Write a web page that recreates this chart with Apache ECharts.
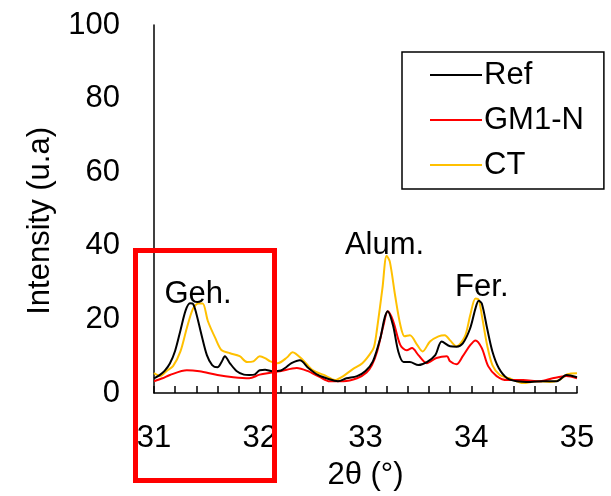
<!DOCTYPE html>
<html>
<head>
<meta charset="utf-8">
<script src="https://cdn.jsdelivr.net/npm/echarts@6/dist/echarts.min.js"></script>
<style>
  html, body { margin: 0; padding: 0; background: #fff; }
  #chart { width: 611px; height: 496px; }
</style>
</head>
<body>
<div id="chart"></div>
<script>
// [2theta, intensity]
const refData = [[31.00,4.0],[31.05,4.8],[31.10,6.0],[31.15,8.0],[31.20,11.5],[31.25,17],[31.30,22.5],[31.34,24.4],[31.37,24.2],[31.40,21.6],[31.45,15.7],[31.50,10.3],[31.55,7.6],[31.60,7.0],[31.64,8.5],[31.67,10],[31.72,8],[31.78,6],[31.85,5.0],[31.90,4.9],[31.95,5.0],[32.00,6.2],[32.05,6.3],[32.12,5.9],[32.20,6.1],[32.25,7.0],[32.30,8.1],[32.38,8.9],[32.46,6.8],[32.55,4.9],[32.65,3.8],[32.74,3.2],[32.82,4.0],[32.92,4.6],[33.00,6.0],[33.07,8.6],[33.14,14.9],[33.18,20.3],[33.21,22.2],[33.26,18.4],[33.31,11.3],[33.36,8.4],[33.42,8.4],[33.50,7.6],[33.58,8.4],[33.66,10.3],[33.72,14],[33.80,12.7],[33.86,12.6],[33.92,13.5],[33.99,17.6],[34.04,23],[34.07,25.1],[34.10,24.3],[34.15,17.6],[34.20,11.3],[34.26,6.8],[34.34,4.0],[34.43,3.2],[34.56,3.0],[34.68,3.2],[34.81,3.2],[34.90,4.9],[35.00,4.3]];
const gm1nData = [[31.00,3.2],[31.08,4.0],[31.15,4.9],[31.31,6.2],[31.43,5.9],[31.60,4.9],[31.75,4.3],[31.90,4.0],[32.00,5.0],[32.10,5.5],[32.19,5.9],[32.35,6.8],[32.45,6.0],[32.57,4.3],[32.66,3.2],[32.79,3.2],[32.92,4.0],[33.01,5.6],[33.06,7.5],[33.11,11.3],[33.17,18.4],[33.21,22.2],[33.26,19.7],[33.33,13],[33.39,11.6],[33.44,12.2],[33.50,10.3],[33.58,8.1],[33.67,9.5],[33.77,10],[33.80,8.6],[33.86,7.8],[33.92,10],[33.99,13],[34.04,14.3],[34.10,12.2],[34.16,7.3],[34.24,4.6],[34.34,3.5],[34.49,3.5],[34.65,3.2],[34.77,4.0],[34.90,4.6],[35.00,4.0]];
const ctData = [[31.00,5.4],[31.06,4.6],[31.12,6.0],[31.18,7.3],[31.25,11.3],[31.31,17.6],[31.37,23],[31.42,24.3],[31.46,24.3],[31.51,19.5],[31.58,14.9],[31.64,11.6],[31.72,10.8],[31.81,10],[31.88,8.4],[31.94,8.6],[32.00,10],[32.05,9.5],[32.10,8.6],[32.17,8.1],[32.26,9.7],[32.31,11.1],[32.41,8.9],[32.50,6.2],[32.63,4.6],[32.71,3.5],[32.79,4.6],[32.88,6.5],[32.97,8.1],[33.04,10.5],[33.08,12.5],[33.11,17.6],[33.16,28.4],[33.20,37.3],[33.23,35.7],[33.28,26.5],[33.33,18.4],[33.37,15.4],[33.42,15.7],[33.49,13],[33.54,11.3],[33.61,14],[33.69,15.4],[33.75,15.7],[33.80,14.3],[33.86,12.7],[33.94,15.4],[33.99,21.1],[34.04,25.7],[34.07,25.4],[34.10,21.1],[34.15,13],[34.20,7.6],[34.27,4.9],[34.36,4.0],[34.49,2.7],[34.62,3.2],[34.74,3.0],[34.83,3.5],[34.91,5.1],[35.00,5.4]];

const seriesNames = ['Ref', 'GM1-N', 'CT'];
const seriesColors = ['#000000', '#ff0000', '#ffc000'];

// peak labels
const peakNames = ['Geh.', 'Alum.', 'Fer.'];
const peakX = [31.416, 33.18, 34.10];
const peakY = [26.8, 40, 28.6];

const FONT = "'Liberation Sans', Arial, sans-serif";
const FS = 31;

const chart = echarts.init(document.getElementById('chart'));

const lineSeries = [refData, gm1nData, ctData].map((d, i) => ({
  name: seriesNames[i],
  type: 'line',
  data: d,
  symbol: 'none',
  smooth: 0.3,
  lineStyle: { color: seriesColors[i], width: 2 },
  itemStyle: { color: seriesColors[i] },
  z: 3 - i
}));

const option = {
  animation: false,
  grid: { left: 154, right: 34, top: 25, bottom: 101 },
  xAxis: {
    type: 'value',
    min: 31,
    max: 35,
    interval: 0.2,
    name: '2θ (°)',
    nameLocation: 'middle',
    nameGap: 66,
    nameTextStyle: { fontFamily: FONT, fontSize: FS, color: '#000', lineHeight: 32 },
    axisLine: { show: true, lineStyle: { color: '#000', width: 1.5 } },
    axisTick: { show: true, inside: true, length: 7, lineStyle: { color: '#000', width: 1.5 } },
    splitLine: { show: false },
    axisLabel: {
      margin: 29,
      fontFamily: FONT,
      fontSize: FS,
      lineHeight: 32,
      color: '#000',
      formatter: v => Math.abs(v - Math.round(v)) < 1e-6 ? String(Math.round(v)) : ''
    }
  },
  yAxis: {
    type: 'value',
    min: 0,
    max: 100,
    interval: 20,
    axisLine: { show: true, lineStyle: { color: '#000', width: 1.5 } },
    axisTick: { show: false },
    splitLine: { show: false },
    axisLabel: { margin: 34, fontFamily: FONT, fontSize: FS, color: '#000' }
  },
  legend: {
    data: seriesNames,
    orient: 'vertical',
    left: 402,
    top: 52,
    padding: [5, 20, 6, 28],
    icon: 'rect',
    itemWidth: 52,
    itemHeight: 2,
    itemGap: 9,
    borderColor: '#000',
    borderWidth: 1.5,
    textStyle: { fontFamily: FONT, fontSize: FS, color: '#000', lineHeight: 36, padding: [0, 0, 0, -3] }
  },
  series: lineSeries.concat([{
    name: 'peaks',
    type: 'scatter',
    silent: true,
    symbolSize: 0,
    itemStyle: { opacity: 1 },
    data: peakNames.map((n, i) => ({ name: n, value: [peakX[i], peakY[i]] })),
    label: {
      show: true,
      position: 'inside',
      formatter: p => p.name,
      fontFamily: FONT,
      fontSize: FS,
      color: '#000',
      opacity: 1,
      textBorderWidth: 0
    },
    z: 5
  }]),
  graphic: [
    {
      type: 'text',
      left: 25,
      top: 127,
      rotation: Math.PI / 2,
      style: { text: 'Intensity (u.a)', font: FS + 'px ' + FONT, fill: '#000' }
    },
    {
      type: 'rect',
      shape: { x: 135.5, y: 250.5, width: 139, height: 230 },
      style: { fill: 'none', stroke: '#ff0000', lineWidth: 5 },
      z: 100
    }
  ]
};

chart.setOption(option);
</script>
</body>
</html>
